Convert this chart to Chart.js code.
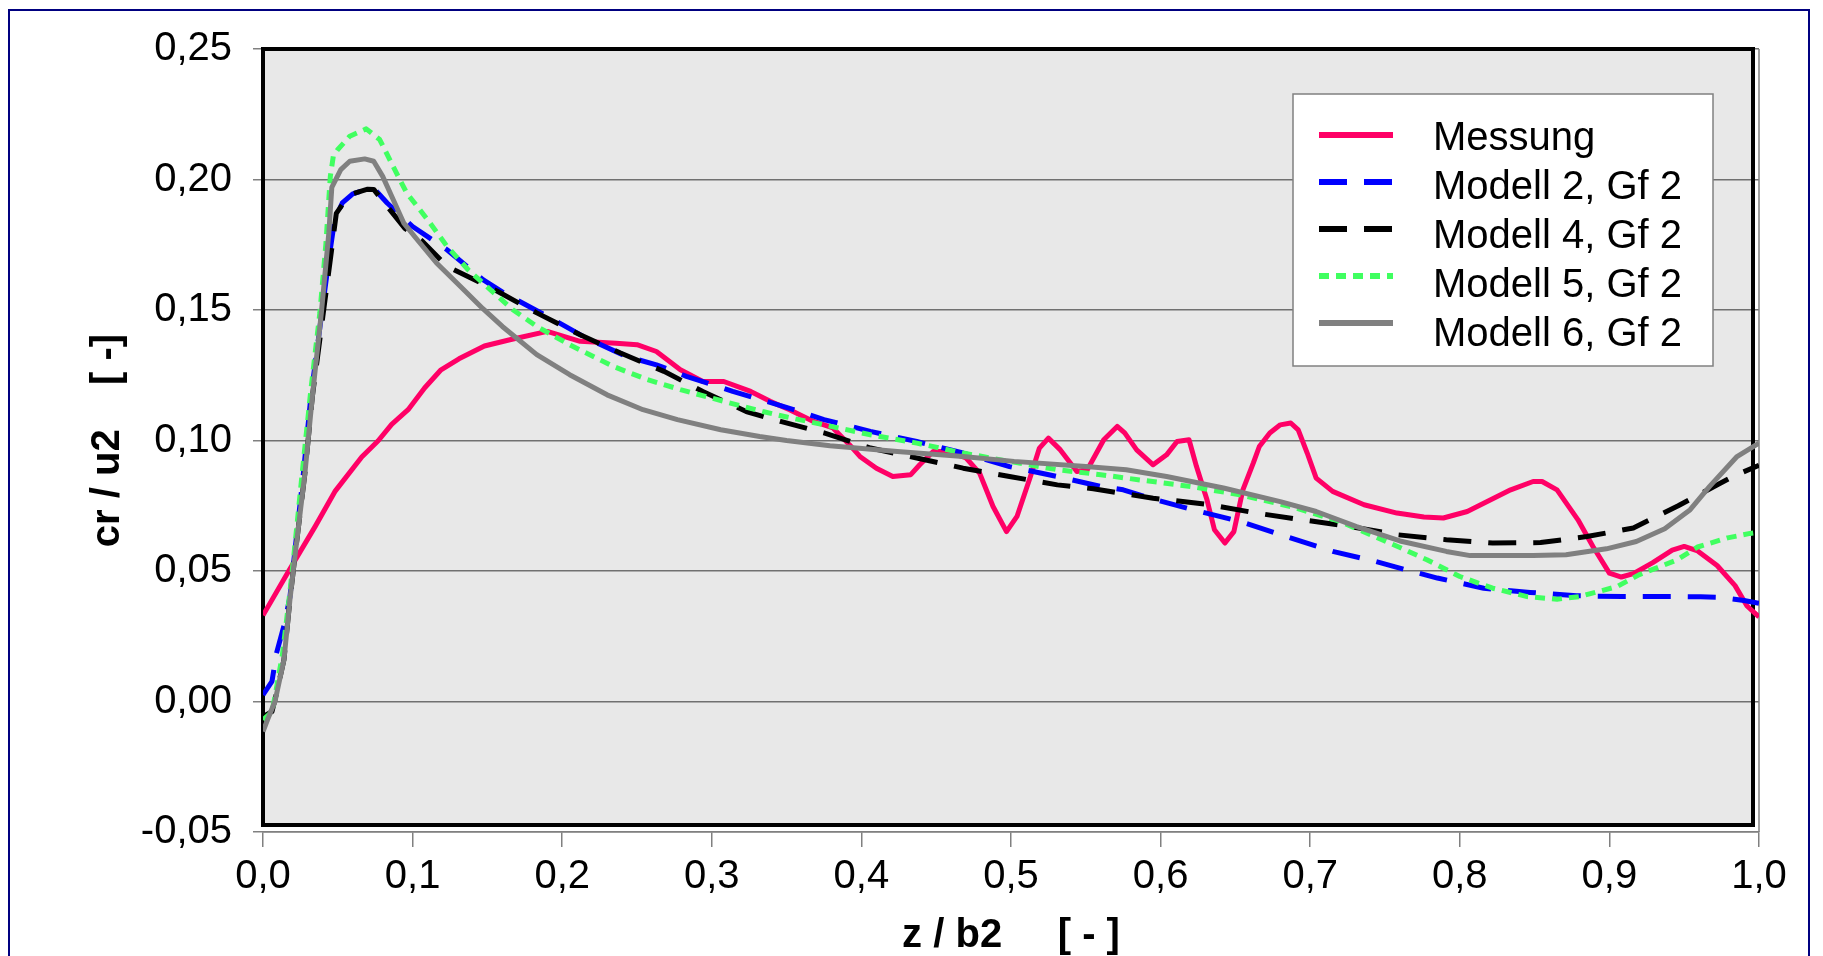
<!DOCTYPE html>
<html><head><meta charset="utf-8">
<script src="https://cdn.jsdelivr.net/npm/chart.js@4.4.0/dist/chart.umd.min.js"></script>
<style>html,body{margin:0;padding:0;background:#fff;overflow:hidden}canvas{display:block}</style>
</head><body>
<canvas id="c" width="1823" height="956"></canvas>
<script>
// ---- data (z / b2 on x, cr / u2 on y) ----
const seriesNames = ['Messung', 'Modell 2, Gf 2', 'Modell 4, Gf 2', 'Modell 5, Gf 2', 'Modell 6, Gf 2'];
const xTickLabels = ['0,0','0,1','0,2','0,3','0,4','0,5','0,6','0,7','0,8','0,9','1,0'];
const yTickLabels = ['-0,05','0,00','0,05','0,10','0,15','0,20','0,25'];

const zMess = [0.000,0.017,0.035,0.048,0.066,0.077,0.086,0.097,0.108,0.119,0.131,0.148,0.165,0.190,0.212,0.236,0.250,0.263,0.279,0.294,0.308,0.326,0.339,0.352,0.368,0.381,0.392,0.399,0.410,0.421,0.433,0.439,0.448,0.457,0.470,0.479,0.488,0.497,0.504,0.513,0.519,0.525,0.533,0.544,0.551,0.562,0.571,0.576,0.584,0.595,0.604,0.611,0.619,0.624,0.631,0.636,0.643,0.649,0.655,0.662,0.666,0.673,0.680,0.687,0.692,0.698,0.704,0.715,0.736,0.758,0.776,0.789,0.805,0.834,0.849,0.855,0.865,0.879,0.889,0.900,0.908,0.916,0.929,0.942,0.950,0.959,0.972,0.984,0.992,1.000];
const vMess = [0.0330,0.0498,0.0672,0.0804,0.0937,0.0999,0.1062,0.1118,0.1201,0.1271,0.1313,0.1362,0.1386,0.1418,0.1380,0.1373,0.1367,0.1341,0.1271,0.1226,0.1226,0.1188,0.1150,0.1118,0.1073,0.1048,0.0984,0.0939,0.0894,0.0862,0.0869,0.0907,0.0958,0.0958,0.0933,0.0875,0.0747,0.0651,0.0709,0.0862,0.0971,0.1009,0.0964,0.0881,0.0888,0.1003,0.1054,0.1029,0.0964,0.0907,0.0945,0.0996,0.1003,0.0900,0.0773,0.0658,0.0607,0.0651,0.0811,0.0914,0.0977,0.1029,0.1060,0.1067,0.1041,0.0952,0.0856,0.0805,0.0754,0.0722,0.0707,0.0703,0.0728,0.0811,0.0843,0.0843,0.0811,0.0696,0.0594,0.0492,0.0477,0.0490,0.0532,0.0580,0.0594,0.0577,0.0521,0.0444,0.0366,0.0324];

const zM2 = [0.000,0.006,0.009,0.014,0.018,0.021,0.027,0.032,0.039,0.044,0.048,0.053,0.060,0.070,0.075,0.083,0.100,0.123,0.147,0.161,0.190,0.216,0.243,0.263,0.283,0.314,0.346,0.375,0.406,0.437,0.468,0.499,0.531,0.560,0.575,0.593,0.622,0.653,0.684,0.715,0.744,0.767,0.785,0.816,0.847,0.878,0.909,0.943,0.961,0.974,0.990,1.000];
const vM2 = [0.0025,0.0077,0.0185,0.0290,0.0400,0.0560,0.0874,0.1169,0.1475,0.1693,0.1850,0.1910,0.1945,0.1963,0.1960,0.1910,0.1820,0.1731,0.1616,0.1565,0.1476,0.1393,0.1322,0.1290,0.1246,0.1188,0.1134,0.1080,0.1035,0.0996,0.0952,0.0900,0.0862,0.0824,0.0811,0.0779,0.0734,0.0690,0.0632,0.0575,0.0536,0.0500,0.0473,0.0434,0.0418,0.0405,0.0402,0.0402,0.0401,0.0399,0.0387,0.0376];

const zM4 = [0.000,0.006,0.008,0.014,0.018,0.021,0.028,0.033,0.040,0.045,0.049,0.055,0.060,0.070,0.074,0.083,0.095,0.106,0.123,0.148,0.157,0.183,0.212,0.239,0.268,0.294,0.323,0.346,0.375,0.406,0.437,0.468,0.499,0.531,0.555,0.595,0.633,0.664,0.695,0.727,0.758,0.791,0.822,0.854,0.885,0.916,0.946,0.970,0.984,1.000];
const vM4 = [-0.0058,-0.0039,0.0006,0.0160,0.0390,0.0540,0.0874,0.1169,0.1475,0.1693,0.1870,0.1920,0.1945,0.1963,0.1962,0.1897,0.1812,0.1766,0.1667,0.1597,0.1571,0.1489,0.1405,0.1335,0.1265,0.1188,0.1111,0.1073,0.1029,0.0971,0.0933,0.0894,0.0862,0.0830,0.0815,0.0779,0.0754,0.0722,0.0696,0.0670,0.0639,0.0620,0.0607,0.0609,0.0632,0.0665,0.0750,0.0824,0.0866,0.0905];

const zM5 = [0.000,0.006,0.008,0.013,0.018,0.021,0.027,0.032,0.038,0.042,0.045,0.047,0.050,0.058,0.069,0.078,0.087,0.096,0.110,0.123,0.137,0.157,0.167,0.183,0.205,0.234,0.257,0.279,0.308,0.334,0.350,0.375,0.406,0.437,0.468,0.499,0.531,0.560,0.586,0.620,0.653,0.687,0.720,0.753,0.760,0.778,0.800,0.822,0.845,0.865,0.880,0.905,0.920,0.945,0.959,0.979,0.994,1.000];
const vM5 = [-0.0070,-0.0040,0.0020,0.0180,0.0420,0.0580,0.0920,0.1194,0.1489,0.1750,0.2012,0.2089,0.2115,0.2166,0.2194,0.2153,0.2050,0.1949,0.1846,0.1744,0.1655,0.1552,0.1501,0.1437,0.1367,0.1284,0.1233,0.1195,0.1150,0.1111,0.1090,0.1060,0.1022,0.0990,0.0952,0.0920,0.0888,0.0869,0.0849,0.0824,0.0792,0.0747,0.0690,0.0607,0.0590,0.0543,0.0479,0.0434,0.0402,0.0392,0.0402,0.0440,0.0486,0.0542,0.0592,0.0627,0.0644,0.0648];

const zM6 = [0.000,0.003,0.008,0.014,0.018,0.021,0.028,0.033,0.039,0.044,0.046,0.052,0.058,0.068,0.074,0.080,0.087,0.094,0.103,0.116,0.132,0.147,0.160,0.183,0.205,0.230,0.254,0.277,0.306,0.332,0.350,0.379,0.424,0.468,0.502,0.550,0.577,0.604,0.642,0.680,0.704,0.731,0.760,0.791,0.807,0.849,0.871,0.898,0.918,0.937,0.954,0.967,0.985,1.000];
const vM6 = [-0.0115,-0.0070,0.0000,0.0160,0.0390,0.0540,0.0874,0.1169,0.1489,0.1795,0.1970,0.2038,0.2070,0.2079,0.2070,0.2012,0.1923,0.1834,0.1770,0.1680,0.1590,0.1505,0.1437,0.1329,0.1252,0.1175,0.1118,0.1080,0.1041,0.1015,0.1000,0.0980,0.0958,0.0939,0.0920,0.0900,0.0888,0.0862,0.0818,0.0766,0.0728,0.0670,0.0615,0.0575,0.0559,0.0559,0.0562,0.0585,0.0613,0.0662,0.0735,0.0824,0.0937,0.0990];

// ---- helpers ----
const FONT = '"Liberation Sans", Arial, Helvetica, sans-serif';
function pts(z, v) { return z.map((x, i) => ({x: x, y: v[i]})); }
function fmt(val, d) { if (Math.abs(val) < 1e-9) val = 0; return Number(val).toFixed(d).replace('.', ','); }

const styles = [
  {color: '#FF0066', dash: [], width: 5},
  {color: '#0000FF', dash: [28, 17], width: 5},
  {color: '#000000', dash: [28, 17], width: 5},
  {color: '#40FF60', dash: [10, 7], width: 5},
  {color: '#808080', dash: [], width: 5}
];
const seriesData = [pts(zMess, vMess), pts(zM2, vM2), pts(zM4, vM4), pts(zM5, vM5), pts(zM6, vM6)];

const datasets = seriesNames.map((name, i) => ({
  label: name,
  data: seriesData[i],
  borderColor: styles[i].color,
  backgroundColor: styles[i].color,
  borderDash: styles[i].dash,
  borderWidth: styles[i].width,
  borderCapStyle: 'butt',
  borderJoinStyle: 'round',
  pointRadius: 0,
  tension: 0,
  fill: false,
  order: seriesNames.length - i
}));

const framePlugin = {
  id: 'excelFrame',
  beforeDraw(chart) {
    const {ctx, chartArea: a} = chart;
    ctx.save();
    ctx.fillStyle = '#ffffff';
    ctx.fillRect(0, 0, chart.width, chart.height);
    ctx.strokeStyle = '#000080';
    ctx.lineWidth = 2;
    ctx.strokeRect(9, 10, 1800, 990);
    ctx.fillStyle = '#E8E8E8';
    ctx.fillRect(a.left, a.top, a.right - 6 - a.left, a.bottom - 7 - a.top);
    ctx.restore();
  },
  beforeDatasetsDraw(chart) {
    const {ctx, chartArea: a} = chart;
    ctx.save();
    ctx.strokeStyle = '#808080';
    ctx.lineWidth = 1.5;
    ctx.beginPath();
    ctx.moveTo(a.right, a.top);
    ctx.lineTo(a.right, a.bottom);
    ctx.stroke();
    ctx.strokeStyle = '#000000';
    ctx.lineWidth = 4;
    ctx.strokeRect(a.left, a.top, a.right - 6 - a.left, a.bottom - 7 - a.top);
    ctx.restore();
  },
  afterDraw(chart) {
    const ctx = chart.ctx;
    const bx = 1293, by = 94, bw = 420, bh = 272;
    ctx.save();
    ctx.fillStyle = '#ffffff';
    ctx.fillRect(bx, by, bw, bh);
    ctx.strokeStyle = '#808080';
    ctx.lineWidth = 1.5;
    ctx.strokeRect(bx, by, bw, bh);
    chart.data.datasets.forEach((ds, i) => {
      const ly = 135 + i * 47;
      const ty = 150 + i * 49;
      ctx.beginPath();
      ctx.setLineDash(ds.borderDash || []);
      ctx.lineCap = 'butt';
      ctx.strokeStyle = ds.borderColor;
      ctx.lineWidth = 6;
      ctx.moveTo(1319, ly);
      ctx.lineTo(1393, ly);
      ctx.stroke();
      ctx.setLineDash([]);
      ctx.fillStyle = '#000000';
      ctx.font = '40px ' + FONT;
      ctx.textBaseline = 'alphabetic';
      ctx.textAlign = 'left';
      ctx.fillText(ds.label, 1433, ty);
    });
    ctx.restore();
  }
};

Chart.defaults.font.family = FONT;
new Chart(document.getElementById('c'), {
  type: 'line',
  data: {datasets: datasets},
  options: {
    responsive: false,
    devicePixelRatio: 1,
    animation: false,
    layout: {padding: {top: 49, right: 64, left: 0, bottom: 0}},
    plugins: {legend: {display: false}, tooltip: {enabled: false}},
    scales: {
      x: {
        type: 'linear', min: 0, max: 1,
        afterFit(s) { s.height = 124; },
        ticks: {stepSize: 0.1, padding: 6, color: '#000', font: {size: 40},
                maxRotation: 0, autoSkip: false,
                callback: (v) => xTickLabels[Math.round(v * 10)] ?? fmt(v, 1)},
        grid: {drawOnChartArea: false, drawTicks: true, tickLength: 15, tickColor: '#808080', lineWidth: 1.5},
        border: {display: true, color: '#808080', width: 1.5},
        title: {display: true, text: 'z / b2     [ - ]', color: '#000',
                font: {size: 40, weight: 'bold', lineHeight: 1}, padding: {top: 0, bottom: 0}}
      },
      y: {
        type: 'linear', min: -0.05, max: 0.25,
        afterFit(s) { s.width = 263; },
        ticks: {stepSize: 0.05, padding: 21, color: '#000', font: {size: 40},
                callback: (v) => yTickLabels[Math.round((v + 0.05) / 0.05)] ?? fmt(v, 2)},
        grid: {color: '#707070', lineWidth: 1.5, drawTicks: true, tickLength: 10, tickColor: '#808080'},
        border: {display: false},
        title: {display: true, text: 'cr / u2    [ -]', color: '#000',
                font: {size: 40, weight: 'bold', lineHeight: 1}, padding: {top: 88, bottom: 0}}
      }
    }
  },
  plugins: [framePlugin]
});
</script>
</body></html>
